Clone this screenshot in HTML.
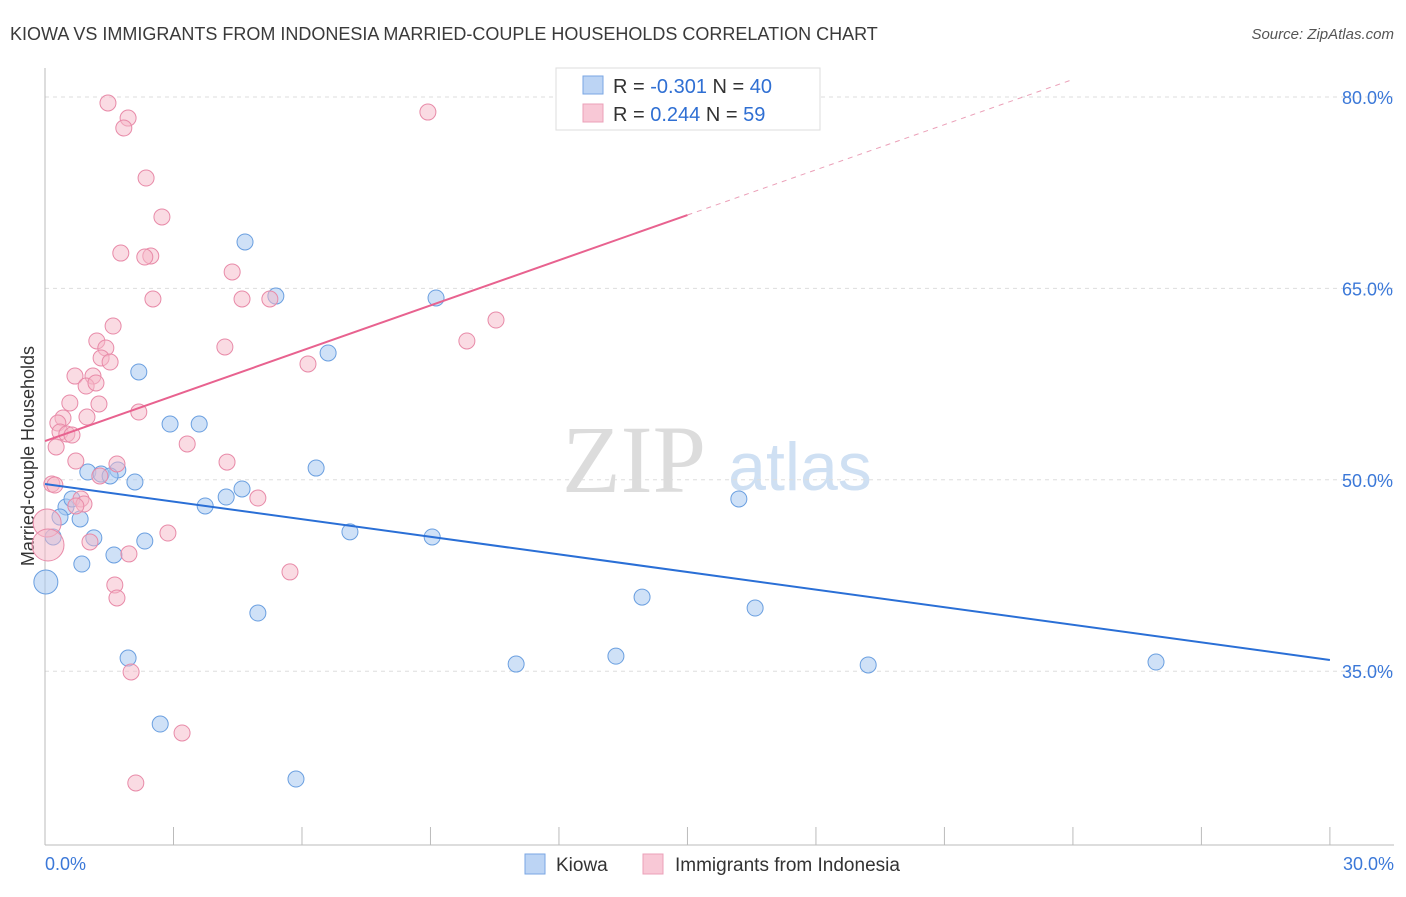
<!DOCTYPE html>
<html><head><meta charset="utf-8"><style>
body{margin:0;background:#fff;font-family:"Liberation Sans",sans-serif}
</style></head><body>
<svg id="chart" width="1406" height="892" xmlns="http://www.w3.org/2000/svg">
<text x="10" y="40" font-size="18" fill="#3a3a3a">KIOWA VS IMMIGRANTS FROM INDONESIA MARRIED-COUPLE HOUSEHOLDS CORRELATION CHART</text>
<text x="1394" y="39" font-size="15" fill="#555" text-anchor="end" font-style="italic">Source: ZipAtlas.com</text>
<text x="634" y="492" font-size="96" fill="#dcdcdc" font-family="Liberation Serif,serif" text-anchor="middle">ZIP</text>
<text x="800" y="490" font-size="68" fill="#cfe0f3" text-anchor="middle">atlas</text>
<text transform="translate(34,456) rotate(-90)" font-size="18" fill="#333" text-anchor="middle">Married-couple Households</text>
<g id="grid"></g><g id="axes"></g><g id="pts"></g><g id="lines"></g>
<g>
<rect x="556" y="68" width="264" height="62" fill="#fff" stroke="#ddd"/>
<rect x="583" y="76" width="20" height="18" fill="#bcd4f4" stroke="#7aa6e3"/>
<rect x="583" y="104" width="20" height="18" fill="#f8c8d6" stroke="#eba0b8"/>
<text x="613" y="93" font-size="20" fill="#333">R = <tspan fill="#2f6fd3">-0.301</tspan>   N = <tspan fill="#2f6fd3">40</tspan></text>
<text x="613" y="121" font-size="20" fill="#333">R =  <tspan fill="#2f6fd3">0.244</tspan>   N =  <tspan fill="#2f6fd3">59</tspan></text>
</g>
<g>
<rect x="525" y="854" width="20" height="20" fill="#bcd4f4" stroke="#7aa6e3"/>
<text x="556" y="871" font-size="19" fill="#333">Kiowa</text>
<rect x="643" y="854" width="20" height="20" fill="#f8c8d6" stroke="#eba0b8"/>
<text x="675" y="871" font-size="19" fill="#333">Immigrants from Indonesia</text>
</g>
</svg>
<script>
const yTicks=[80,65,50,35];
const xTickLabels=["0.0%","30.0%"];
const blueX=[4.67,5.39,9.13,6.61,2.19,2.92,3.60,1.00,1.31,1.70,1.52,6.33,2.10,4.60,4.23,3.74,0.49,0.82,0.35,0.63,16.20,7.12,9.04,1.14,2.33,0.19,1.61,0.86,0.02,13.94,16.58,4.97,1.94,11.00,13.33,19.22,25.94,2.69,5.86];
const blueY=[68.64,64.40,64.25,59.94,58.45,54.37,54.37,50.61,50.45,50.77,50.30,50.92,49.83,49.28,48.65,47.95,47.87,46.93,47.08,48.50,48.50,45.92,45.52,45.45,45.20,45.52,44.11,43.40,41.99,40.81,39.95,39.56,36.03,35.56,36.18,35.49,35.72,30.86,26.55];
const blueR=[8,8,8,8,8,8,8,8,8,8,8,8,8,8,8,8,8,8,8,8,8,8,8,8,8,8,8,8,12,8,8,8,8,8,8,8,8,8,8];
const pinkX=[1.47,1.94,1.84,8.94,2.36,2.73,1.77,2.47,2.33,4.37,2.52,4.60,5.25,1.59,10.53,1.21,9.85,4.20,1.42,1.31,1.52,6.14,0.70,1.12,0.96,1.19,0.58,1.26,2.19,0.98,0.42,0.30,0.35,0.51,0.63,3.32,0.26,0.72,1.68,4.25,1.28,0.16,0.23,4.97,0.84,0.91,0.72,0.05,2.87,1.05,0.07,1.96,1.63,1.68,5.72,2.01,3.20,2.12];
const pinkY=[79.53,78.35,77.57,78.82,73.65,70.60,67.77,67.54,67.46,66.29,64.17,64.17,64.17,62.05,62.52,60.88,60.88,60.41,60.33,59.55,59.23,59.08,58.13,58.13,57.35,57.59,56.02,55.94,55.31,54.92,54.84,54.45,53.75,53.59,53.51,52.81,52.57,51.47,51.24,51.39,50.30,49.67,49.59,48.57,48.50,48.10,47.95,46.61,45.83,45.13,44.89,44.19,41.76,40.74,42.78,34.94,30.16,26.24];
const pinkR=[8,8,8,8,8,8,8,8,8,8,8,8,8,8,8,8,8,8,8,8,8,8,8,8,8,8,8,8,8,8,8,8,8,8,8,8,8,8,8,8,8,8,8,8,8,8,8,14,8,8,16,8,8,8,8,8,8,8];
const blueTrend=[49.67,35.88];
const pinkTrend=[53.04,70.75,81.33];
const xs=v=>45+v*42.83, ys=v=>97+(80-v)*12.76;
const NS="http://www.w3.org/2000/svg";
function mk(p,t,a){const e=document.createElementNS(NS,t);for(const k in a)e.setAttribute(k,a[k]);document.getElementById(p).appendChild(e);return e;}
yTicks.forEach(v=>{
 const l=mk('grid','line',{x1:45,x2:1394,y1:ys(v),y2:ys(v),stroke:'#ddd','stroke-dasharray':'4,4'});
 
 
 const t=mk('grid','text',{x:1393,y:ys(v)+7,'font-size':18,fill:'#3b78d8','text-anchor':'end'});
 t.textContent=v.toFixed(1)+'%';
 
 
});
mk('axes','line',{x1:45,x2:45,y1:68,y2:845,stroke:'#bbb'});
mk('axes','line',{x1:45,x2:1394,y1:845,y2:845,stroke:'#bbb'});
for(let i=0;i<=10;i++){const t=mk('axes','line',{x1:xs(i*3),x2:xs(i*3),y1:827,y2:845,stroke:'#bbb'});
 
 }
[[0,'start',45],[1,'end',1394]].forEach(([i,a,x])=>{const t=mk('axes','text',{x:x,y:870,'font-size':18,fill:'#3b78d8','text-anchor':a});t.textContent=xTickLabels[i];
 
 });
blueX.forEach((x,i)=>{const c=mk('pts','circle',{cx:xs(x),cy:ys(blueY[i]),r:blueR[i],fill:'rgba(168,200,240,0.55)',stroke:'#6a9fe0','stroke-width':1});
 
 });
pinkX.forEach((x,i)=>{const c=mk('pts','circle',{cx:xs(x),cy:ys(pinkY[i]),r:pinkR[i],fill:'rgba(245,184,200,0.5)',stroke:'#e88aa8','stroke-width':1});
 
 });
const bl=mk('lines','line',{x1:xs(0),y1:ys(blueTrend[0]),x2:xs(30),y2:ys(blueTrend[1]),stroke:'#2a6fd6','stroke-width':2});


const slope=(pinkTrend[1]-pinkTrend[0])/15;
const xEnd=(pinkTrend[2]-pinkTrend[0])/slope;
const pl=mk('lines','line',{x1:xs(0),y1:ys(pinkTrend[0]),x2:xs(15),y2:ys(pinkTrend[1]),stroke:'#e8628f','stroke-width':2});


const pd=mk('lines','line',{x1:xs(15),y1:ys(pinkTrend[1]),x2:xs(xEnd),y2:ys(pinkTrend[2]),stroke:'#eba0b8','stroke-width':1,'stroke-dasharray':'5,5'});


</script>
</body></html>
